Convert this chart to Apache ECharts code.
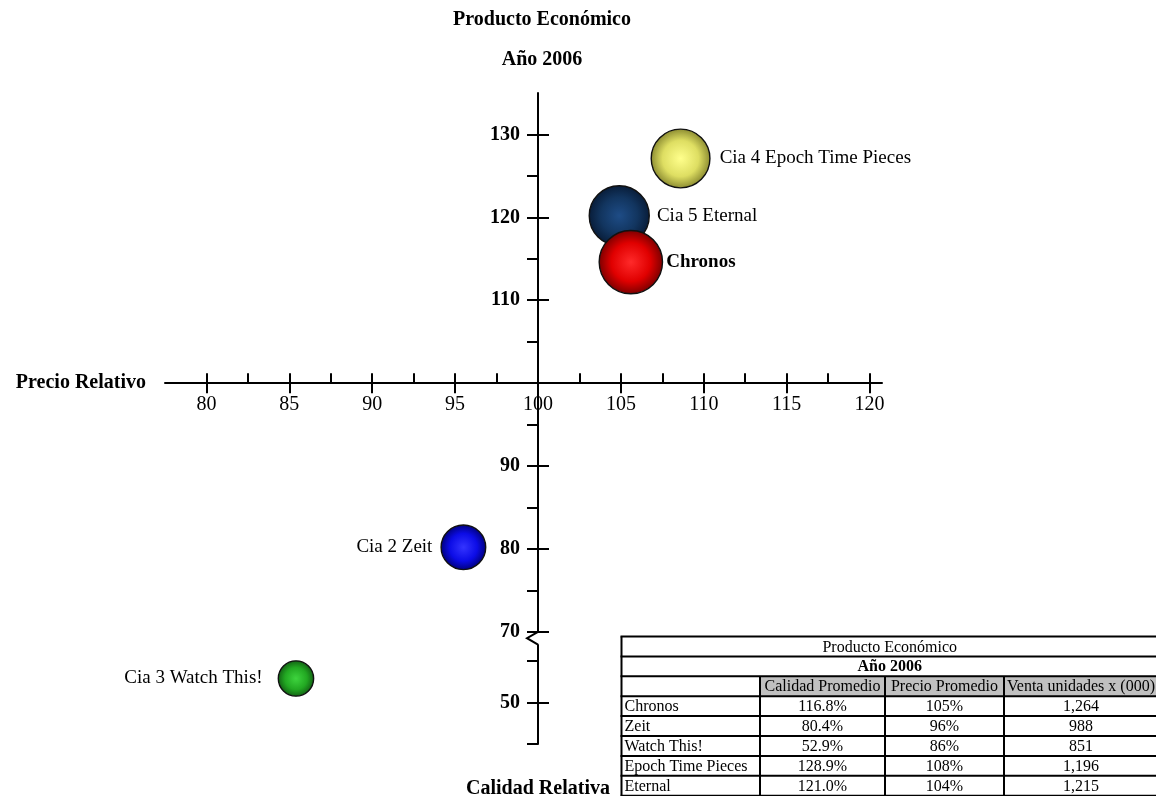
<!DOCTYPE html>
<html>
<head>
<meta charset="utf-8">
<title>Producto Económico - Año 2006</title>
<script src="https://cdn.jsdelivr.net/npm/echarts@6/dist/echarts.min.js"></script>
<style>
  html, body { margin: 0; padding: 0; background: #ffffff; }
  #chart { width: 1156px; height: 796px; }
</style>
</head>
<body>
<div id="chart"></div>
<script>
// ---- Datos ----
const empresas = ['Chronos', 'Zeit', 'Watch This!', 'Epoch Time Pieces', 'Eternal'];
const etiquetas = ['Chronos', 'Cia 2 Zeit', 'Cia 3 Watch This!', 'Cia 4 Epoch Time Pieces', 'Cia 5 Eternal'];
// posición de cada burbuja en el gráfico (precio relativo, calidad relativa)
const precioRelativo = [105.6, 95.5, 85.4, 108.6, 104.9];
const calidadRelativa = [114.6, 80.2, 52.9, 127.1, 120.2];
// tabla resumen
const calidadPromedio = [116.8, 80.4, 52.9, 128.9, 121.0];
const precioPromedio = [105, 96, 86, 108, 104];
const ventaUnidades = [1264, 988, 851, 1196, 1215];
const encabezados = ['Calidad Promedio', 'Precio Promedio', 'Venta unidades x (000)'];
const tituloTabla = 'Producto Económico';
const anioTabla = 'Año 2006';
// marcas de los ejes
const xEtiquetas = [80, 85, 90, 95, 100, 105, 110, 115, 120];
const xMarcasMenores = [80, 82.5, 85, 87.5, 90, 92.5, 95, 97.5, 100, 102.5, 105, 107.5, 110, 112.5, 115, 117.5, 120];
const yEtiquetas = [50, 70, 80, 90, 110, 120, 130];
const yMarcasMenores = [45, 50, 55, 70, 75, 80, 85, 90, 95, 105, 110, 115, 120, 125, 130];

// ---- Estilo ----
const FUENTE = "'Liberation Serif', 'Times New Roman', serif";
const paleta = [
  ['#ff2a2a', '#e00000', '#7a0000'],   // Chronos
  ['#3434ff', '#0c0ce6', '#00007a'],   // Zeit
  ['#3ed43e', '#22a822', '#125e14'],   // Watch This!
  ['#ffff8c', '#dede62', '#8a8a30'],   // Epoch Time Pieces
  ['#1e4c86', '#12355f', '#081c38']    // Eternal
];
const ladoEtiqueta = ['right', 'left', 'left', 'right', 'right'];
const distEtiqueta = [3, 8, 15, 9, 7];
const negrita = [true, false, false, false, false];
const ordenDibujo = [1, 2, 3, 4, 0];   // Chronos encima de Eternal

const xMin = 77.5, xMax = 120.75, yMin = 45, yMax = 135;
const corte = { start: 57, end: 70, gap: 1.53 };

// diámetro de la burbuja según la venta en unidades
function diametro(venta) { return 0.0678 * (venta - 330); }

function degradado(c) {
  return {
    type: 'radial', x: 0.5, y: 0.5, r: 0.5,
    colorStops: [
      { offset: 0, color: c[0] },
      { offset: 0.6, color: c[1] },
      { offset: 1, color: c[2] }
    ]
  };
}

const datosBurbujas = ordenDibujo.map(i => ({
  name: etiquetas[i],
  value: [precioRelativo[i], calidadRelativa[i], ventaUnidades[i]],
  itemStyle: { color: degradado(paleta[i]), borderColor: '#111', borderWidth: 1.4, opacity: 1 },
  label: {
    show: true,
    formatter: etiquetas[i],
    position: ladoEtiqueta[i],
    distance: distEtiqueta[i],
    color: '#000',
    fontWeight: negrita[i] ? 'bold' : 'normal'
  }
}));

// ---- Tabla ----
const W = 1156, H = 796;
const tCols = [621.5, 760, 885, 1004, 1158];
const tTop = 636.5, rowH = 19.9, nFilas = 8;

function construirTabla() {
  const els = [];
  const x0 = tCols[0], x1 = tCols[tCols.length - 1];
  const yB = tTop + nFilas * rowH;
  els.push({ type: 'rect', shape: { x: x0, y: tTop, width: x1 - x0, height: yB - tTop }, style: { fill: '#fff' }, z: 50 });
  for (let c = 1; c <= 3; c++) {
    els.push({ type: 'rect', shape: { x: tCols[c], y: tTop + 2 * rowH, width: tCols[c + 1] - tCols[c], height: rowH }, style: { fill: '#c0c0c0' }, z: 51 });
  }
  const linea = { stroke: '#000', lineWidth: 2 };
  for (let r = 0; r <= nFilas; r++) {
    const y = tTop + r * rowH;
    els.push({ type: 'line', shape: { x1: x0 - 1, y1: y, x2: x1, y2: y }, style: linea, z: 53 });
  }
  els.push({ type: 'line', shape: { x1: x0, y1: tTop, x2: x0, y2: yB }, style: linea, z: 53 });
  els.push({ type: 'line', shape: { x1: x1, y1: tTop, x2: x1, y2: yB }, style: linea, z: 53 });
  for (let c = 1; c <= 3; c++) {
    els.push({ type: 'line', shape: { x1: tCols[c], y1: tTop + 2 * rowH, x2: tCols[c], y2: yB }, style: linea, z: 53 });
  }
  const texto = (t, x, y, align, bold) => ({
    type: 'text', z: 55,
    style: { text: t, x: x, y: y, align: align, verticalAlign: 'middle', fill: '#000',
      fontFamily: FUENTE, fontSize: 16, fontWeight: bold ? 'bold' : 'normal' }
  });
  const cx = (x0 + x1) / 2;
  els.push(texto(tituloTabla, cx, tTop + rowH * 0.5 + 1, 'center', false));
  els.push(texto(anioTabla, cx, tTop + rowH * 1.5 + 1, 'center', true));
  encabezados.forEach((h, c) => {
    els.push(texto(h, (tCols[c + 1] + tCols[c + 2]) / 2, tTop + rowH * 2.5 + 1, 'center', false));
  });
  empresas.forEach((e, i) => {
    const y = tTop + rowH * (3.5 + i) + 1;
    els.push(texto(e, x0 + 3, y, 'left', false));
    els.push(texto(calidadPromedio[i].toFixed(1) + '%', (tCols[1] + tCols[2]) / 2, y, 'center', false));
    els.push(texto(precioPromedio[i] + '%', (tCols[2] + tCols[3]) / 2, y, 'center', false));
    els.push(texto(ventaUnidades[i].toLocaleString('en-US'), (tCols[3] + tCols[4]) / 2, y, 'center', false));
  });
  return els;
}

const titulos = [
  { type: 'text', z: 60, style: { text: 'Producto Económico', x: 542, y: 20, align: 'center', verticalAlign: 'middle', fill: '#000', fontFamily: FUENTE, fontSize: 20, fontWeight: 'bold' } },
  { type: 'text', z: 60, style: { text: 'Año 2006', x: 542, y: 60, align: 'center', verticalAlign: 'middle', fill: '#000', fontFamily: FUENTE, fontSize: 20, fontWeight: 'bold' } }
];

const lineaEje = { color: '#000', width: 2 };
const textoBase = { fontFamily: FUENTE, color: '#000' };

const option = {
  backgroundColor: '#ffffff',
  animation: false,
  textStyle: { fontFamily: FUENTE, color: '#000' },
  grid: { left: 165, right: W - 882, top: 93, bottom: H - 744, outerBoundsMode: 'none', containLabel: false },
  xAxis: [
    {
      type: 'value', min: xMin, max: xMax, position: 'bottom',
      axisLine: { show: true, onZero: false, lineStyle: lineaEje },
      axisTick: { show: true, inside: false, length: 10, customValues: xEtiquetas, lineStyle: lineaEje },
      axisLabel: { customValues: xEtiquetas, margin: 12, fontSize: 20, ...textoBase },
      splitLine: { show: false },
      name: 'Precio Relativo', nameLocation: 'start', nameGap: 19,
      nameTextStyle: { ...textoBase, fontSize: 20, fontWeight: 'bold', align: 'right', verticalAlign: 'middle' }
    },
    {
      type: 'value', min: xMin, max: xMax, position: 'bottom',
      axisLine: { show: false, onZero: false },
      axisTick: { show: true, inside: true, length: 10, customValues: xMarcasMenores, lineStyle: lineaEje },
      axisLabel: { show: false },
      splitLine: { show: false }
    }
  ],
  yAxis: [
    {
      type: 'value', min: yMin, max: yMax, position: 'left',
      breaks: [corte], breakArea: { show: false },
      axisLine: { show: true, onZero: false, lineStyle: lineaEje },
      axisTick: { show: true, inside: false, length: 11, customValues: yMarcasMenores, lineStyle: lineaEje },
      axisLabel: { customValues: yEtiquetas, margin: 18, fontSize: 20, fontWeight: 'bold', ...textoBase },
      splitLine: { show: false },
      name: 'Calidad Relativa', nameLocation: 'start', nameGap: 45,
      nameTextStyle: { ...textoBase, fontSize: 20, fontWeight: 'bold', align: 'center', verticalAlign: 'middle' }
    },
    {
      type: 'value', min: yMin, max: yMax, position: 'left',
      breaks: [corte], breakArea: { show: false },
      axisLine: { show: false, onZero: false },
      axisTick: { show: true, inside: true, length: 11, customValues: yEtiquetas, lineStyle: lineaEje },
      axisLabel: { show: false },
      splitLine: { show: false }
    }
  ],
  series: [{
    type: 'scatter',
    xAxisIndex: 0, yAxisIndex: 0,
    symbol: 'circle',
    symbolSize: v => diametro(v[2]),
    data: datosBurbujas,
    itemStyle: { opacity: 1 },
    label: { show: true, fontSize: 19, fontFamily: FUENTE, color: '#000' },
    emphasis: { disabled: true },
    z: 5
  }],
  graphic: titulos.concat(construirTabla())
};

const chart = echarts.init(document.getElementById('chart'), null, { renderer: 'canvas' });
chart.setOption(option);

// Los ejes se cruzan en (100, 100)
const px100 = chart.convertToPixel({ xAxisIndex: 0 }, 100);
const py100 = chart.convertToPixel({ yAxisIndex: 0 }, 100);
const gridLeft = option.grid.left;
const gridBottom = H - option.grid.bottom;
const offY = -(px100 - gridLeft);
const offX = -(gridBottom - py100);
option.xAxis.forEach(a => { a.offset = offX; });
option.yAxis.forEach(a => { a.offset = offY; });

// quiebre del eje vertical
const yArriba = chart.convertToPixel({ yAxisIndex: 0 }, corte.end);
const yAbajo = chart.convertToPixel({ yAxisIndex: 0 }, corte.start);
option.graphic = option.graphic.concat([
  { type: 'rect', z: 100, shape: { x: px100 - 2, y: yArriba + 1.5, width: 4, height: yAbajo - yArriba - 3 }, style: { fill: '#fff' } },
  { type: 'polyline', z: 101, shape: { points: [[px100, yArriba], [px100 - 11, (yArriba + yAbajo) / 2], [px100, yAbajo]] }, style: { stroke: '#000', lineWidth: 2, fill: null } }
]);
chart.setOption(option, true);
</script>
</body>
</html>
